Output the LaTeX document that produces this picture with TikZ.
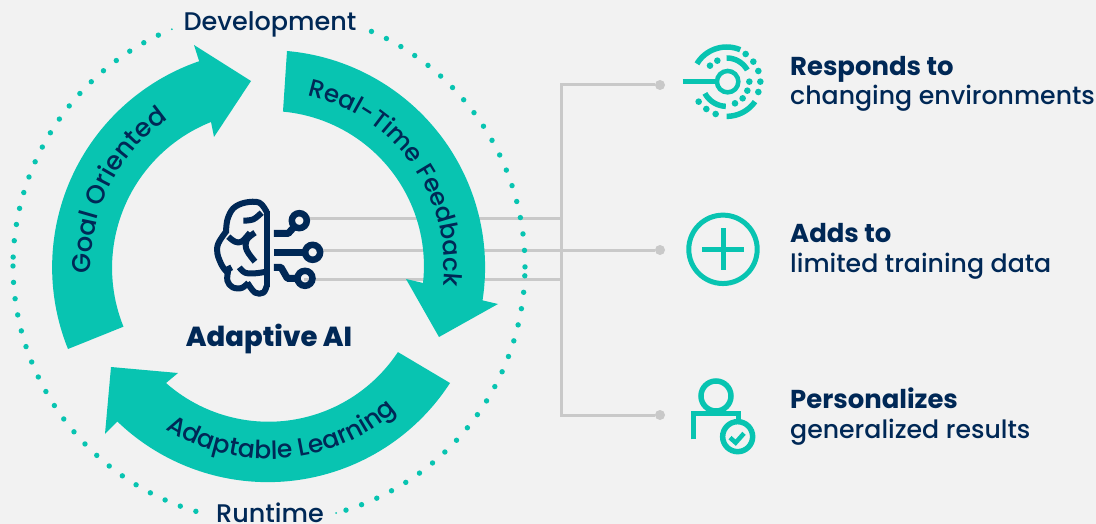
\documentclass[tikz,border=0pt]{standalone}
\usepackage{fontspec}
\setmainfont{Poppins Medium}[BoldFont={Poppins ExtraBold}]
\newfontfamily\semibold{Poppins Bold}
\usetikzlibrary{decorations.text}
\definecolor{teal1}{HTML}{08C4B1}
\definecolor{navy1}{HTML}{002856}
\definecolor{gray1}{HTML}{C9C9C9}
\definecolor{bg1}{HTML}{F2F2F2}
\tikzset{
  arrowshape/.style={fill=teal1},
  wire/.style={draw=gray1,line width=3pt},
  enddot/.style={circle,fill=gray1,inner sep=0pt,minimum size=10pt},
  ring/.style={circle,draw=navy1,line width=6.5pt,inner sep=0pt,minimum size=15pt},
  brainline/.style={draw=navy1,line width=6pt,line cap=butt,line join=round},
  iconline/.style={draw=teal1,line width=5pt,line cap=butt},
  label/.style={text=navy1,font=\fontsize{25.5}{25.5}\selectfont,inner sep=0pt},
  boldlabel/.style={text=navy1,font=\fontsize{27.5}{27.5}\selectfont\bfseries,inner sep=0pt},
  sidetext/.style={text=navy1,anchor=base west,inner sep=0pt,font=\fontsize{25.2}{25.2}\selectfont},
  sidebold/.style={text=navy1,anchor=base west,inner sep=0pt,font=\fontsize{25.9}{25.9}\semibold},
}
\newcommand{\curvedlabel}[3]{%
  \path[decorate,decoration={text along path,text align={align=center},
    text={|\fontsize{#1}{#1}\selectfont\color{navy1}|#3}}] #2;}
\begin{document}
\begin{tikzpicture}[x=1pt,y=1pt]
\fill[bg1] (0,0) rectangle (1096,-524);
\useasboundingbox (0,0) rectangle (1096,-524);

% wires
\node[enddot] (dota) at (660,-85) {};
\node[enddot] (dotb) at (660,-250) {};
\node[enddot] (dotc) at (660,-415) {};
\coordinate (wa) at (305,-219);
\coordinate (wb) at (316,-250);
\coordinate (wc) at (304,-279);
\coordinate (ja) at (561,-219);
\coordinate (jc) at (561,-279);
\coordinate (jt) at (561,-85);
\coordinate (jb) at (561,-415);
\draw[wire] (wa) -- (ja);
\draw[wire] (wb) -- (dotb);
\draw[wire] (wc) -- (jc);
\draw[wire] (dota) -- (jt) -- (jb) -- (dotc);

% cycle arrows
\fill[arrowshape] (68,-349) arc[start angle=202,end angle=109,radius=218pt]
  -- (194,-45) -- (251,-81) -- (214,-137) -- (211,-122)
  arc[start angle=111.7,end angle=202,radius=157pt] -- cycle;
\fill[arrowshape] (287,-51) arc[start angle=85,end angle=-8.8,radius=217pt]
  -- (498,-304) -- (439,-337) -- (406,-279) -- (423,-283)
  arc[start angle=-6.3,end angle=84.8,radius=155pt] -- cycle;
\fill[arrowshape] (450,-383) arc[start angle=-32.9,end angle=-133.9,radius=217pt]
  -- (105,-434) -- (111,-367) -- (178,-373) -- (166,-383)
  arc[start angle=-131.4,end angle=-33.4,radius=155pt] -- cycle;

% arrow labels
\curvedlabel{25.8}{(269,-266) ++(184:178pt) arc[start angle=184,end angle=123,radius=178pt]}{Goal Oriented}
\curvedlabel{24.5}{(269,-266) ++(78:175pt) arc[start angle=78,end angle=-7,radius=175pt]}{Real-Time Feedback}
\curvedlabel{25}{(269,-266) ++(238:193pt) arc[start angle=238,end angle=311,radius=193pt]}{Adaptable Learning}

% dotted circle
\foreach \i in {0,...,17} \fill[teal1] ({269+256*cos(178-3.67*\i)},{-266+256*sin(178-3.67*\i)}) circle[radius=2.7pt];
\foreach \i in {0,...,18} \fill[teal1] ({269+256*cos(66.4-3.7*\i)},{-266+256*sin(66.4-3.7*\i)}) circle[radius=2.7pt];
\foreach \i in {0,...,19} \fill[teal1] ({269+256*cos(-2.2-3.7*\i)},{-266+256*sin(-2.2-3.7*\i)}) circle[radius=2.7pt];
\foreach \i in {0,...,20} \fill[teal1] ({269+256*cos(180+3.67*\i)},{-266+256*sin(180+3.67*\i)}) circle[radius=2.7pt];
\fill[teal1] ({269+256*cos(112.3)},{-266+256*sin(112.3)}) circle[radius=1pt];
\fill[teal1] ({269+256*cos(-74.8)},{-266+256*sin(-74.8)}) circle[radius=1pt];

% titles
\node[label,anchor=base] (dev) at (270,-31) {Development};
\node[label,anchor=base] (run) at (270,-522) {Runtime};
\node[boldlabel,anchor=base] (ai) at (269,-346) {Adaptive AI};

% brain
\begin{scope}[shift={(200pt,-190pt)},x=0.3333pt,y=-0.3333pt]
\draw[brainline,line join=round] (200,290) -- (200,62);
\draw[brainline] plot[smooth,tension=0.6] coordinates {(200,66) (178,38) (135,38) (100,55) (82,90) (78,130)};
\draw[brainline] plot[smooth,tension=0.6] coordinates {(78,125) (55,160) (52,190) (65,225) (78,243)};
\draw[brainline] plot[smooth,tension=0.6] coordinates {(70,245) (95,232)};
\draw[brainline] plot[smooth,tension=0.6] coordinates {(85,240) (82,272) (98,292) (125,294) (145,278)};
\draw[brainline] plot[smooth,tension=0.6] coordinates {(142,278) (165,308) (190,308) (200,288)};
\draw[brainline] plot[smooth,tension=0.6] coordinates {(130,92) (160,88) (185,68)};
\draw[brainline] plot[smooth,tension=0.6] coordinates {(85,140) (105,155) (125,155) (150,128)};
\draw[brainline] plot[smooth,tension=0.6] coordinates {(165,128) (140,150) (140,180) (165,215)};
\draw[brainline] plot[smooth,tension=0.6] coordinates {(118,232) (135,248) (165,250) (200,245)};
\draw[brainline,line width=7pt] (222,130) -- (265,130) -- (285,108);
\draw[brainline,line width=7pt] (222,187) -- (310,187);
\draw[brainline,line width=7pt] (222,232) -- (243,232) -- (262,265) -- (292,265);
\node[ring] (ringa) at (298,92) {};
\node[ring] (ringb) at (338,187) {};
\node[ring] (ringc) at (315,265) {};
\end{scope}

% responds icon
\begin{scope}[shift={(660pt,-30pt)},x=0.3333pt,y=-0.3333pt]
\draw[iconline] (68,155) -- (172,155);
\draw[iconline,line width=4.5pt] (203,155) circle[radius=10.7pt];
\draw[iconline,line width=5.5pt] plot[domain=211:293,samples=30] ({200+104*cos(\x)},{155+104*sin(\x)});
\draw[iconline,line width=5.5pt] plot[domain=270:330.6,samples=30] ({200+71*cos(\x)},{155+71*sin(\x)});
\draw[iconline,line width=5.5pt] plot[domain=92:151.7,samples=30] ({200+74*cos(\x)},{155+74*sin(\x)});
\draw[iconline,line width=5.5pt] plot[domain=35.2:90,samples=30] ({200+104*cos(\x)},{155+104*sin(\x)});
\foreach \p in {(150,107),(172,92),(257,72),(280,95),(295,123),(301,155),(268,155),(262,182),(295,186),(248,205),(225,220),(116,215),(139,237),(167,252)}
  \fill[teal1] \p circle[radius=3.3pt];
\end{scope}

% plus icon
\begin{scope}[shift={(670pt,-200pt)},x=0.3333pt,y=-0.3333pt]
\draw[iconline] (159,148) circle[radius=34.2pt];
\draw[iconline] (96,148) -- (222,148);
\draw[iconline] (159,85) -- (159,211);
\end{scope}

% person icon
\begin{scope}[shift={(670pt,-370pt)},x=0.3333pt,y=-0.3333pt]
\draw[iconline,line width=5.5pt] (138,78) circle[radius=15pt];
\draw[iconline,line width=5.5pt] (71,208) -- (71,130) -- (205,130) -- (205,160);
\draw[iconline,line width=5.5pt] (203,200) circle[radius=15pt];
\draw[iconline,line width=4.5pt] (180,203) -- (197,218) -- (222,190);
\end{scope}

% side text
\node[sidebold] (t1a) at (790,-76) {Responds to};
\node[sidetext] (t1b) at (790,-105) {changing environments};
\node[sidebold] (t2a) at (790,-242) {Adds to};
\node[sidetext] (t2b) at (790,-272) {limited training data};
\node[sidebold] (t3a) at (790,-408) {Personalizes};
\node[sidetext] (t3b) at (790,-438) {generalized results};
\end{tikzpicture}
\end{document}
